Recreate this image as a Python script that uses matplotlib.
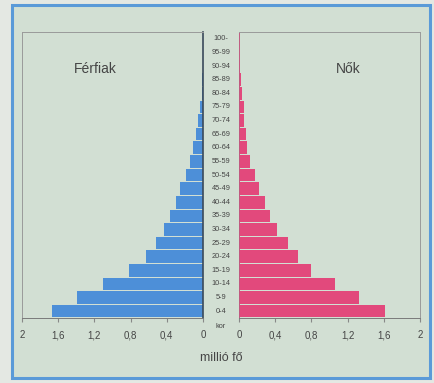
import numpy as np
import matplotlib.pyplot as plt
from matplotlib.patches import Rectangle

plt.rcParams['font.family'] = ['Liberation Sans', 'DejaVu Sans']

# --- adatok (millió fő) ---
age_groups = ['0-4', '5-9', '10-14', '15-19', '20-24', '25-29', '30-34',
              '35-39', '40-44', '45-49', '50-54', '55-59', '60-64', '65-69',
              '70-74', '75-79', '80-84', '85-89', '90-94', '95-99', '100-']
men = [1.67, 1.39, 1.10, 0.82, 0.63, 0.52, 0.43, 0.37, 0.30, 0.25, 0.19,
       0.14, 0.11, 0.08, 0.05, 0.03, 0.015, 0.008, 0.004, 0.002, 0.0]
women = [1.61, 1.33, 1.06, 0.80, 0.65, 0.54, 0.42, 0.34, 0.29, 0.22, 0.18,
         0.12, 0.09, 0.075, 0.06, 0.055, 0.03, 0.02, 0.01, 0.005, 0.0]
ticks = [0, 0.4, 0.8, 1.2, 1.6, 2]
tick_labels = ['0', '0,4', '0,8', '1,2', '1,6', '2']

bg = '#d2dfd3'
blue = '#4d8fd8'
pink = '#e2497c'
txt = '#454545'

fig = plt.figure(figsize=(4.35, 3.83), dpi=100)
fig.patch.set_facecolor('#e4e8e3')
fig.patches.append(Rectangle((12 / 435, 5 / 383), 418 / 435, 373 / 383,
                             transform=fig.transFigure, facecolor=bg,
                             edgecolor='#5a9ad8', linewidth=2.2, zorder=-1))

y = np.arange(len(age_groups))
ax_l = fig.add_axes([22 / 435, 1 - 318 / 383, 181 / 435, 286 / 383])
ax_r = fig.add_axes([239 / 435, 1 - 318 / 383, 181 / 435, 286 / 383])

ax_l.barh(y, men, height=0.92, color=blue, edgecolor='none')
ax_r.barh(y, women, height=0.92, color=pink, edgecolor='none')

for ax in (ax_l, ax_r):
    ax.set_facecolor('none')
    ax.set_ylim(-0.5, len(age_groups) - 0.5)
    ax.set_xlim(0, 2)
    ax.set_yticks([])
    ax.set_xticks(ticks)
    ax.set_xticklabels(tick_labels, fontsize=7, color=txt)
    ax.tick_params(axis='x', length=3, color='#888888', pad=6)
    for s in ax.spines.values():
        s.set_color('#9a9a9a')
        s.set_linewidth(0.7)
    ax.spines['bottom'].set_color('#7a7a7a')

ax_l.invert_xaxis()
ax_l.spines['right'].set_color('#3a4a5a')
ax_l.spines['right'].set_linewidth(1.2)
ax_r.spines['left'].set_color('#c05a80')

# korcsoport feliratok középen
for i, lab in enumerate(age_groups):
    yy = ax_l.transData.transform((0, i))[1]
    fx, fy = fig.transFigure.inverted().transform((0, yy))
    fig.text(221 / 435, fy, lab, ha='center', va='center', fontsize=5.3,
             color=txt)
fig.text(221 / 435, 1 - 327 / 383, 'kor', ha='center', va='center',
         fontsize=5.3, color=txt)

fig.text(95 / 435, 1 - 69 / 383, 'Férfiak', ha='center', va='center',
         fontsize=10, color=txt)
fig.text(348 / 435, 1 - 69 / 383, 'Nők', ha='center', va='center',
         fontsize=10, color=txt)
fig.text(221 / 435, 1 - 358 / 383, 'millió fő', ha='center', va='center',
         fontsize=9, color=txt)

fig.savefig('out.png', dpi=100, facecolor=fig.get_facecolor())
